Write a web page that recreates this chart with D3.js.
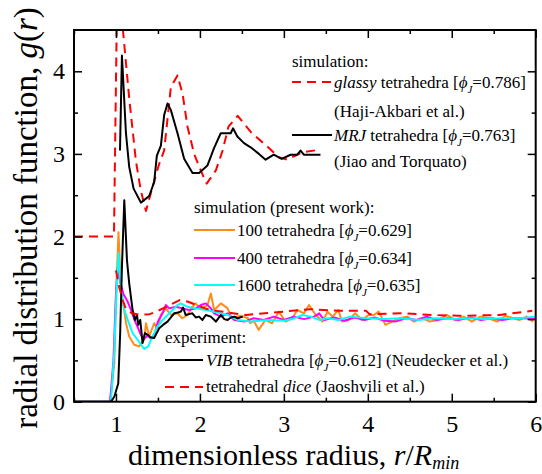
<!DOCTYPE html>
<html>
<head>
<meta charset="utf-8">
<script src="https://cdn.jsdelivr.net/npm/d3@7"></script>
<style>
body { margin: 0; background: #fff; }
</style>
</head>
<body>
<div id="chart"></div>
<script>
// g(r) curves, points are [r/Rmin, g(r)]
// the two literature simulations are drawn shifted up by 2
const upperShift = 2;

const glassy = [[0.5,0],[0.976,0],[1.008,2.5],[1.035,3.1],[1.083,2.5],[1.158,1.67],[1.238,0.91],[1.297,0.55],
    [1.357,0.31],[1.436,0.60],[1.515,0.88],[1.574,1.04],[1.654,1.81],[1.733,1.95],[1.793,1.73],[1.852,1.33],
    [1.931,1.0],[2.01,0.80],[2.08,0.64],[2.19,0.80],[2.27,1.04],[2.34,1.33],[2.45,1.46],[2.62,1.25],[2.78,1.11],
    [2.94,0.96],[3.04,0.93],[3.22,1.02],[3.42,1.05]];

const mrj = [[1.048,1.04],[1.071,2.19],[1.119,1.25],[1.158,0.84],[1.21,0.58],[1.297,0.41],[1.396,0.49],
    [1.455,0.66],[1.487,0.98],[1.535,1.10],[1.574,1.47],[1.614,1.61],[1.654,1.53],[1.733,1.25],[1.812,0.94],
    [1.912,0.77],[1.99,0.77],[2.09,0.86],[2.168,1.07],[2.248,1.25],[2.367,1.25],[2.394,1.31],[2.446,1.21],
    [2.525,1.13],[2.604,1.08],[2.703,1.00],[2.783,0.93],[2.88,0.99],[2.973,0.94],[3.08,0.99],[3.16,0.99],
    [3.199,1.04],[3.238,0.99],[3.436,0.99]];

const n100 = [[0.5,0],[0.93,0],[0.98,0.46],[1.0,1.27],[1.03,2.05],[1.06,1.35],[1.08,1.23],[1.12,0.95],
    [1.158,0.79],[1.218,0.69],[1.277,0.67],[1.336,0.75],[1.357,0.95],[1.396,0.79],[1.455,0.95],[1.495,0.89],
    [1.535,1.05],[1.594,1.13],[1.654,1.05],[1.733,1.07],[1.79,1.01],[1.852,1.05],[1.91,1.15],[1.95,1.19],
    [2.01,1.12],[2.09,1.17],[2.13,1.31],[2.17,1.11],[2.25,1.19],[2.33,1.13],[2.37,1.03],[2.41,1.02],
    [2.49,1.04],[2.57,1.01],[2.6,0.95],[2.64,0.98],[2.70,0.87],[2.78,0.99],[2.86,0.95],[2.94,1.09],
    [3.02,0.97],[3.10,1.01],[3.16,1.11],[3.24,1.07],[3.30,1.17],[3.38,1.05],[3.46,0.97],[3.52,1.09],
    [3.58,1.03],[3.65,1.11],[3.69,0.97],[3.77,0.99],[3.85,1.07],[3.93,0.99],[4.01,1.05],[4.07,1.05],
    [4.13,1.09],[4.21,0.93],[4.29,0.97],[4.37,1.01],[4.47,1.03],[4.55,0.97],[4.65,1.01],[4.74,0.97],
    [4.84,0.99],[4.94,1.05],[5.04,0.99],[5.14,1.03],[5.24,0.97],[5.34,1.03],[5.44,1.01],[5.54,0.97],
    [5.64,1.04],[5.73,1.01],[5.81,0.99],[5.89,1.03],[5.97,0.97]];

const n400 = [[0.5,0],[0.93,0],[0.97,0.5],[1.0,1.3],[1.02,1.62],[1.05,1.45],[1.09,1.3],[1.14,1.21],
    [1.18,1.11],[1.22,0.99],[1.26,0.9],[1.30,0.80],[1.33,0.76],[1.38,0.80],[1.42,0.76],[1.46,0.82],
    [1.50,0.97],[1.555,1.07],[1.594,1.17],[1.634,1.13],[1.713,1.15],[1.79,1.13],[1.87,1.11],[1.95,1.13],
    [2.01,1.17],[2.07,1.19],[2.13,1.13],[2.17,1.07],[2.25,1.03],[2.33,1.07],[2.41,0.99],[2.53,0.97],
    [2.64,1.01],[2.76,0.99],[2.88,1.03],[3.0,0.99],[3.12,1.03],[3.24,1.0],[3.36,1.03],[3.42,1.07],
    [3.48,0.99],[3.6,1.02],[3.72,0.98],[3.84,1.02],[3.96,0.99],[4.08,1.02],[4.2,0.98],[4.33,0.97],
    [4.45,1.01],[4.58,0.99],[4.70,1.03],[4.82,0.99],[4.95,1.01],[5.08,0.99],[5.22,1.02],[5.35,0.99],
    [5.48,1.01],[5.6,0.99],[5.72,1.01],[5.85,1.01],[6.0,1.0]];

const n1600 = [[0.5,0],[0.94,0],[0.98,0.6],[1.005,1.3],[1.03,1.8],[1.06,1.35],[1.10,1.11],[1.14,0.99],
    [1.198,0.83],[1.258,0.75],[1.336,0.64],[1.384,0.67],[1.436,0.79],[1.495,0.91],[1.555,0.99],[1.614,1.05],
    [1.674,1.11],[1.733,1.17],[1.77,1.19],[1.85,1.15],[1.95,1.13],[2.07,1.11],[2.17,1.09],[2.33,1.05],
    [2.45,0.99],[2.60,0.97],[2.80,0.99],[3.0,0.98],[3.10,1.0],[3.22,1.05],[3.32,1.03],[3.42,0.99],
    [3.52,1.01],[3.65,0.99],[3.79,1.03],[3.99,1.01],[4.2,1.0],[4.4,1.01],[4.6,0.99],[4.8,1.01],[5.0,1.0],
    [5.2,1.01],[5.4,1.0],[5.6,1.01],[5.8,1.01],[6.0,1.03]];

const vib = [[0.5,0],[0.94,0],[0.98,0.06],[1.027,0.22],[1.05,0.83],[1.071,1.63],[1.099,2.44],[1.131,1.71],
    [1.158,1.43],[1.198,1.11],[1.226,0.99],[1.25,1.05],[1.265,0.93],[1.289,0.99],[1.317,0.71],[1.345,0.83],
    [1.377,0.81],[1.41,0.78],[1.455,0.77],[1.515,0.89],[1.56,0.93],[1.614,0.97],[1.693,1.07],[1.74,1.08],
    [1.772,1.09],[1.80,1.14],[1.83,1.05],[1.87,1.06],[1.91,1.07],[1.95,1.02],[1.99,1.03],[2.03,0.99],
    [2.07,1.05],[2.13,1.03],[2.19,0.97],[2.25,1.05],[2.29,1.0],[2.33,0.99],[2.37,1.02],[2.41,1.03],
    [2.45,1.01],[2.51,1.03]];

const dice = [[1.0,1.59],[1.04,1.38],[1.08,1.23],[1.12,1.12],[1.19,1.07],[1.29,1.05],[1.40,1.06],
    [1.48,1.09],[1.62,1.16],[1.76,1.23],[1.86,1.21],[2.06,1.13],[2.12,1.11],[2.55,1.05],[2.99,1.09],
    [3.31,1.12],[3.66,1.10],[3.98,1.10],[4.02,1.06],[4.42,1.07],[4.77,1.05],[5.09,1.04],[5.57,1.05],[5.96,1.10]];

const xTicks = [1, 2, 3, 4, 5, 6];
const xMinorTicks = [0.5, 1.5, 2.5, 3.5, 4.5, 5.5];
const yTicks = [0, 1, 2, 3, 4];
const yMinorTicks = [0.5, 1.5, 2.5, 3.5];

// pick the first serif face that is really installed (canvas width test)
function pickFont(candidates) {
    const ctx = document.createElement("canvas").getContext("2d");
    const probe = "mmmmmmmmmwwwwwwwlli1234567890";
    for (const name of candidates) {
        for (const base of ["monospace", "sans-serif"]) {
            ctx.font = `40px ${base}`;
            const w0 = ctx.measureText(probe).width;
            ctx.font = `40px "${name}", ${base}`;
            if (ctx.measureText(probe).width !== w0) return `"${name}", serif`;
        }
    }
    return "serif";
}
const serif = pickFont(["Liberation Serif", "Times New Roman", "Tinos", "Nimbus Roman", "Nimbus Roman No9 L",
    "FreeSerif", "DejaVu Serif", "Noto Serif", "Times"]);

const width = 542, height = 474;
const margin = { left: 74, top: 30, right: 6.3, bottom: 72.3 };

const svg = d3.select("#chart").append("svg")
    .attr("width", width)
    .attr("height", height)
    .style("font-family", serif);

const x = d3.scaleLinear().domain([0.5, 6]).range([margin.left, width - margin.right]);
const y = d3.scaleLinear().domain([0, 4.5]).range([height - margin.bottom, margin.top]);

svg.append("clipPath").attr("id", "plot-clip")
    .append("rect")
    .attr("x", margin.left).attr("y", margin.top)
    .attr("width", x(6) - x(0.5)).attr("height", y(0) - y(4.5));

const series = [
    { data: glassy, shift: upperShift, color: "#ff0000", dash: "9,6" },
    { data: mrj, shift: upperShift, color: "#000000", dash: null },
    { data: n100, shift: 0, color: "#ff8c1a", dash: null },
    { data: n400, shift: 0, color: "#ff00ff", dash: null },
    { data: n1600, shift: 0, color: "#00ffff", dash: null },
    { data: vib, shift: 0, color: "#000000", dash: null },
    { data: dice, shift: 0, color: "#ff0000", dash: "9,6" }
];

const curves = svg.append("g").attr("clip-path", "url(#plot-clip)");
series.forEach(s => {
    const line = d3.line()
        .x(d => x(d[0]))
        .y(d => y(d[1] + s.shift));
    curves.append("path")
        .datum(s.data)
        .attr("fill", "none")
        .attr("stroke", s.color)
        .attr("stroke-width", 2)
        .attr("stroke-dasharray", s.dash)
        .attr("stroke-linejoin", "round")
        .attr("d", line);
});

// axes, ticks pointing inward on all four sides
const plotBottom = y(0), plotTop = y(4.5), plotLeft = x(0.5), plotRight = x(6);

function styleAxis(g) {
    g.attr("font-family", null).attr("font-size", 24);
    g.select(".domain").remove();
    g.selectAll(".tick line").attr("stroke", "#000").attr("stroke-width", 1.5);
    g.selectAll(".tick text").style("font-family", serif);
}

svg.append("g")
    .attr("transform", `translate(0,${plotBottom})`)
    .call(d3.axisBottom(x).tickValues(xTicks).tickFormat(d3.format("d")).tickSize(-8).tickPadding(13))
    .call(styleAxis);
svg.append("g")
    .attr("transform", `translate(0,${plotBottom})`)
    .call(d3.axisBottom(x).tickValues(xMinorTicks).tickFormat("").tickSize(-4))
    .call(styleAxis);
svg.append("g")
    .attr("transform", `translate(0,${plotTop})`)
    .call(d3.axisTop(x).tickValues(xTicks).tickFormat("").tickSize(-8))
    .call(styleAxis);
svg.append("g")
    .attr("transform", `translate(0,${plotTop})`)
    .call(d3.axisTop(x).tickValues(xMinorTicks).tickFormat("").tickSize(-4))
    .call(styleAxis);

svg.append("g")
    .attr("transform", `translate(${plotLeft},0)`)
    .call(d3.axisLeft(y).tickValues(yTicks).tickFormat(d3.format("d")).tickSize(-8).tickPadding(9))
    .call(styleAxis);
svg.append("g")
    .attr("transform", `translate(${plotLeft},0)`)
    .call(d3.axisLeft(y).tickValues(yMinorTicks).tickFormat("").tickSize(-4))
    .call(styleAxis);
svg.append("g")
    .attr("transform", `translate(${plotRight},0)`)
    .call(d3.axisRight(y).tickValues(yTicks).tickFormat("").tickSize(-8))
    .call(styleAxis);
svg.append("g")
    .attr("transform", `translate(${plotRight},0)`)
    .call(d3.axisRight(y).tickValues(yMinorTicks).tickFormat("").tickSize(-4))
    .call(styleAxis);

svg.append("rect")
    .attr("x", plotLeft).attr("y", plotTop)
    .attr("width", plotRight - plotLeft).attr("height", plotBottom - plotTop)
    .attr("fill", "none").attr("stroke", "#000").attr("stroke-width", 2);

// rich text: parts are [text, flags] with flags "i" italic, "s" subscript
function richText(sel, parts, subSize, subDrop) {
    let shifted = 0;
    parts.forEach(p => {
        const t = sel.append("tspan").text(p[0]);
        const flags = p[1] || "";
        if (flags.includes("i")) t.style("font-style", "italic");
        if (flags.includes("s")) {
            t.style("font-size", subSize + "px").attr("dy", subDrop - shifted);
            shifted = subDrop;
        } else if (shifted) {
            t.attr("dy", -shifted);
            shifted = 0;
        }
    });
}

// axis titles
const xTitle = svg.append("text")
    .attr("x", 128).attr("y", 465)
    .style("font-size", "30px");
richText(xTitle, [["dimensionless radius, "], ["r", "i"], ["/"], ["R", "i"], ["min", "is"]], 18, 4);

const yTitle = svg.append("text")
    .attr("transform", "translate(37,218) rotate(-90)")
    .attr("text-anchor", "middle")
    .style("font-size", "33px");
richText(yTitle, [["radial distribution function, "], ["g", "i"], ["("], ["r", "i"], [")"]], 18, 0);

// legend
const legend = svg.append("g").style("font-size", "17px");

function phi(value) {
    return [[" tetrahedra ["], ["\u03d5", "i"], ["J", "is"], ["=" + value + "]"]];
}

function legendLine(x0, x1, yy, color, dash) {
    legend.append("line")
        .attr("x1", x0).attr("x2", x1).attr("y1", yy).attr("y2", yy)
        .attr("stroke", color).attr("stroke-width", 2)
        .attr("stroke-dasharray", dash);
}

function legendText(x0, yy, parts) {
    richText(legend.append("text").attr("x", x0).attr("y", yy), parts, 11, 5);
}

legendText(292, 67, [["simulation:"]]);
legendLine(292, 332, 82, "#ff0000", "9,6");
legendText(334, 88, [["glassy", "i"]].concat(phi("0.786")));
legendText(334, 117, [["(Haji-Akbari et al.)"]]);
legendLine(292, 332, 135, "#000000", null);
legendText(334, 141, [["MRJ", "i"]].concat(phi("0.763")));
legendText(334, 167, [["(Jiao and Torquato)"]]);

legendText(194, 213, [["simulation (present work):"]]);
legendLine(194, 235, 230, "#ff8c1a", null);
legendText(237, 236, [["100"]].concat(phi("0.629")));
legendLine(194, 235, 258, "#ff00ff", null);
legendText(237, 264, [["400"]].concat(phi("0.634")));
legendLine(194, 235, 285, "#00ffff", null);
legendText(237, 291, [["1600"]].concat(phi("0.635")));

legendText(165, 343, [["experiment:"]]);
legendLine(165, 203, 360, "#000000", null);
legendText(206, 366, [["VIB", "i"]].concat(phi("0.612"), [[" (Neudecker et al.)"]]));
legendLine(165, 203, 387, "#ff0000", "9,6");
legendText(206, 392, [["tetrahedral "], ["dice", "i"], [" (Jaoshvili et al.)"]]);
</script>
</body>
</html>
